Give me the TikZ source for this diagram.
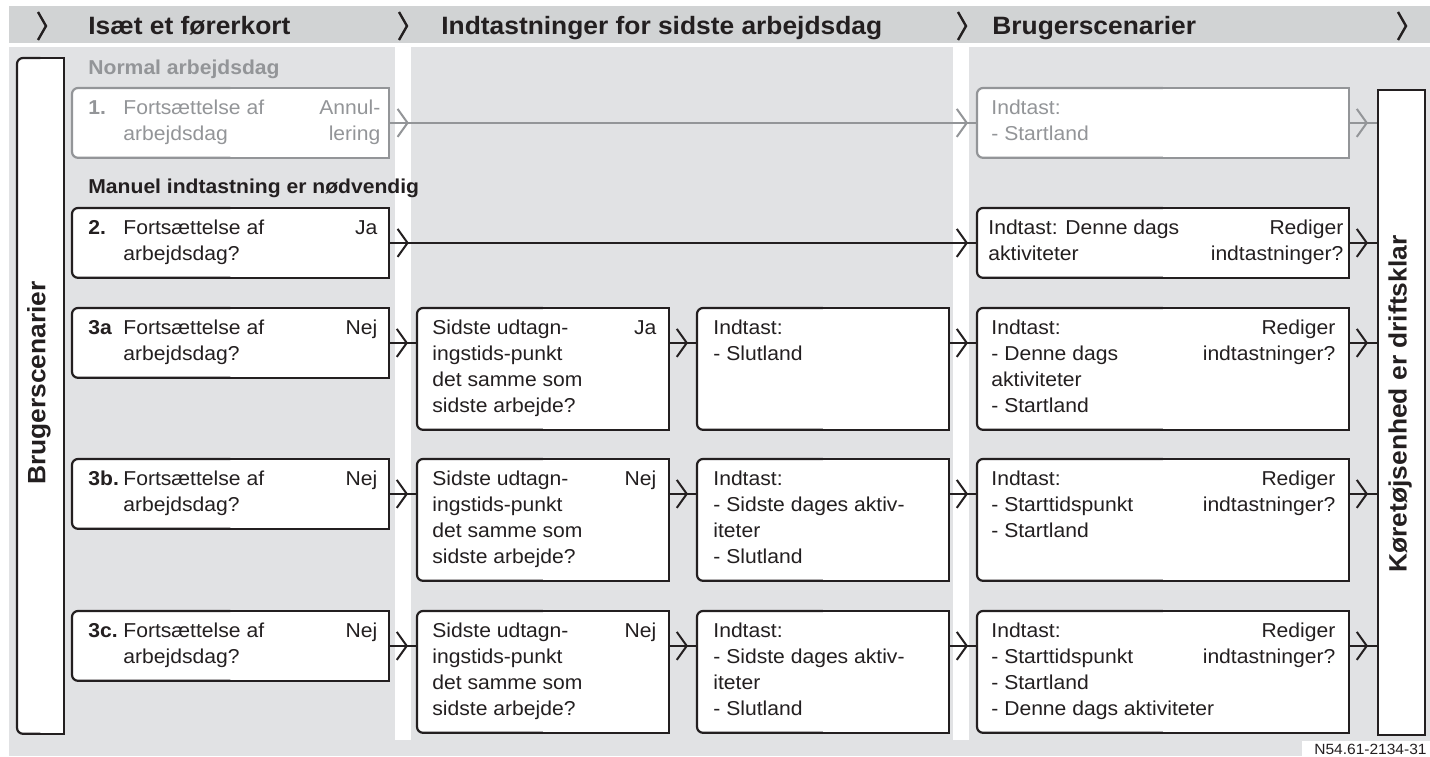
\documentclass[tikz,border=0pt]{standalone}
\usepackage{fontspec}
\setmainfont{Liberation Sans}[FakeStretch=1.05]
\usetikzlibrary{arrows.meta,decorations.markings,calc}

\definecolor{hdrgray}{RGB}{209,211,212}
\definecolor{bodygray}{RGB}{225,226,228}
\definecolor{ink}{RGB}{35,31,32}
\definecolor{dim}{RGB}{147,149,152}

\newcommand{\scenbox}[2][ink]{%
  \fill[white] (#2.north) rectangle (#2.south east);
  \draw[#1, line width=1.1pt, rounded corners=3pt] (#2.north) -- (#2.north west) -- (#2.south west) -- (#2.south);
  \draw[#1, line width=1.1pt] (#2.north) -- (#2.north east) -- (#2.south east) -- (#2.south);}

\tikzset{
  card/.style={rectangle, anchor=north west, inner sep=0pt, fill=white, rounded corners=3pt},
  abox/.style={card, minimum width=158pt, minimum height=34.5pt},
  midbox/.style={card, minimum width=125.5pt, minimum height=60.5pt},
  dbox/.style={card, minimum width=185.5pt, minimum height=#1},
  txt/.style={anchor=north west, inner sep=0pt, align=left, text=ink, font=\fontsize{10.05}{13}\selectfont},
  rtxt/.style={txt, anchor=north east, align=right},
  num/.style={txt, font=\fontsize{10.05}{13}\selectfont\bfseries},
  hdr/.style={anchor=base west, inner sep=0pt, text=ink, font=\fontsize{12.55}{14}\selectfont\bfseries},
  sect/.style={anchor=base west, inner sep=0pt, text=ink, font=\fontsize{10.05}{13}\selectfont\bfseries},
  vert/.style={inner sep=0pt, rotate=90, text=ink, font=\fontsize{12.55}{14}\selectfont\bfseries},
  hchev/.style={draw=ink, line width=1.2pt},
  conn/.style={draw=#1, line width=1pt, postaction={decorate},
    decoration={markings, mark=at position -4.5pt with {\arrow{Straight Barb[length=5pt,width=14pt]}}}},
  conn/.default=ink,
  connlong/.style={draw=#1, line width=1pt, postaction={decorate},
    decoration={markings, mark=at position 10pt with {\arrow{Straight Barb[length=5pt,width=14pt]}},
      mark=at position -4.5pt with {\arrow{Straight Barb[length=5pt,width=14pt]}}}},
  connlong/.default=ink
}

\begin{document}
\begin{tikzpicture}[x=0.5pt,y=-0.5pt]
    \useasboundingbox (0,0) rectangle (1430,756);
    \fill[hdrgray] (9,6) rectangle (1430,43);
    \fill[bodygray] (9,47) rectangle (1430,756);
    \fill[white] (395,47) rectangle (411,740);
    \fill[white] (953,47) rectangle (969,740);
    \fill[white] (1302,741) rectangle (1430,756);

    \draw[hchev] (38,12) -- (46,26) -- (38,40);
    \draw[hchev] (399,12) -- (407,26) -- (399,40);
    \draw[hchev] (958,12) -- (966,26) -- (958,40);
    \draw[hchev] (1398,12) -- (1406,26) -- (1398,40);

    \node[hdr] (h1) at (88,34) {Isæt et førerkort};
    \node[hdr] (h2) at (441,34) {Indtastninger for sidste arbejdsdag};
    \node[hdr] (h3) at (992,34) {Brugerscenarier};

    \node[card, minimum width=23pt, minimum height=337.5pt] (scen) at (17,58) {};
    \scenbox{scen}
    \node[vert] (scent) at (39,383) {Brugerscenarier};

    \node[rectangle, anchor=north west, inner sep=0pt, draw=ink, fill=white, line width=1.1pt,
      minimum width=23.5pt, minimum height=322.5pt] (drv) at (1377,89) {};
    \node[vert] (drvt) at (1400,404) {Køretøjsenhed er driftsklar};

    \node[sect, text=dim] (normal) at (88,74) {Normal arbejdsdag};
    \node[sect] (manuel) at (88,193) {Manuel indtastning er nødvendig};

    % row 1
    \node[abox] (a1) at (72,88) {};
    \scenbox[dim]{a1}
    \node[num, text=dim] (a1n) at ($(a1.north west)+(16,12)$) {1.};
    \node[txt, text=dim] (a1t) at ($(a1.north west)+(51,12)$) {Fortsættelse af\\arbejdsdag};
    \node[rtxt, text=dim] (a1r) at ($(a1.north east)+(-8,12)$) {Annul-\\lering};

    \node[dbox=34.5pt] (d1) at (977,88) {};
    \scenbox[dim]{d1}
    \node[txt, text=dim] (d1t) at ($(d1.north west)+(14,12)$) {Indtast:\\- Startland};

    % row 2
    \node[abox] (a2) at (72,208) {};
    \scenbox{a2}
    \node[num] (a2n) at ($(a2.north west)+(16,12)$) {2.};
    \node[txt] (a2t) at ($(a2.north west)+(51,12)$) {Fortsættelse af\\arbejdsdag?};
    \node[rtxt] (a2r) at ($(a2.north east)+(-11,12)$) {Ja};

    \node[dbox=34.5pt] (d2) at (977,208) {};
    \scenbox{d2}
    \node[txt] (d2t) at ($(d2.north west)+(11,12)$) {Indtast: Denne dags\\aktiviteter};
    \node[rtxt] (d2r) at ($(d2.north east)+(-5,12)$) {Rediger\\indtastninger?};

    % row 3a
    \node[abox] (a3a) at (72,308) {};
    \scenbox{a3a}
    \node[num] (a3an) at ($(a3a.north west)+(16,12)$) {3a};
    \node[txt] (a3at) at ($(a3a.north west)+(51,12)$) {Fortsættelse af\\arbejdsdag?};
    \node[rtxt] (a3ar) at ($(a3a.north east)+(-11,12)$) {Nej};

    \node[midbox] (b3a) at (417,308) {};
    \scenbox{b3a}
    \node[txt] (b3at) at ($(b3a.north west)+(15,12)$) {Sidste udtagn-\\ingstids-punkt\\det samme som\\sidste arbejde?};
    \node[rtxt] (b3ar) at ($(b3a.north east)+(-12,12)$) {Ja};

    \node[midbox] (c3a) at (697,308) {};
    \scenbox{c3a}
    \node[txt] (c3at) at ($(c3a.north west)+(16,12)$) {Indtast:\\- Slutland};

    \node[dbox=60.5pt] (d3a) at (977,308) {};
    \scenbox{d3a}
    \node[txt] (d3at) at ($(d3a.north west)+(14,12)$) {Indtast:\\- Denne dags\\aktiviteter\\- Startland};
    \node[rtxt] (d3ar) at ($(d3a.north east)+(-13,12)$) {Rediger\\indtastninger?};

    % row 3b
    \node[abox] (a3b) at (72,459) {};
    \scenbox{a3b}
    \node[num] (a3bn) at ($(a3b.north west)+(16,12)$) {3b.};
    \node[txt] (a3bt) at ($(a3b.north west)+(51,12)$) {Fortsættelse af\\arbejdsdag?};
    \node[rtxt] (a3br) at ($(a3b.north east)+(-11,12)$) {Nej};

    \node[midbox] (b3b) at (417,459) {};
    \scenbox{b3b}
    \node[txt] (b3bt) at ($(b3b.north west)+(15,12)$) {Sidste udtagn-\\ingstids-punkt\\det samme som\\sidste arbejde?};
    \node[rtxt] (b3br) at ($(b3b.north east)+(-12,12)$) {Nej};

    \node[midbox] (c3b) at (697,459) {};
    \scenbox{c3b}
    \node[txt] (c3bt) at ($(c3b.north west)+(16,12)$) {Indtast:\\- Sidste dages aktiv-\\iteter\\- Slutland};

    \node[dbox=60.5pt] (d3b) at (977,459) {};
    \scenbox{d3b}
    \node[txt] (d3bt) at ($(d3b.north west)+(14,12)$) {Indtast:\\- Starttidspunkt\\- Startland};
    \node[rtxt] (d3br) at ($(d3b.north east)+(-13,12)$) {Rediger\\indtastninger?};

    % row 3c
    \node[abox] (a3c) at (72,611) {};
    \scenbox{a3c}
    \node[num] (a3cn) at ($(a3c.north west)+(16,12)$) {3c.};
    \node[txt] (a3ct) at ($(a3c.north west)+(51,12)$) {Fortsættelse af\\arbejdsdag?};
    \node[rtxt] (a3cr) at ($(a3c.north east)+(-11,12)$) {Nej};

    \node[midbox] (b3c) at (417,611) {};
    \scenbox{b3c}
    \node[txt] (b3ct) at ($(b3c.north west)+(15,12)$) {Sidste udtagn-\\ingstids-punkt\\det samme som\\sidste arbejde?};
    \node[rtxt] (b3cr) at ($(b3c.north east)+(-12,12)$) {Nej};

    \node[midbox] (c3c) at (697,611) {};
    \scenbox{c3c}
    \node[txt] (c3ct) at ($(c3c.north west)+(16,12)$) {Indtast:\\- Sidste dages aktiv-\\iteter\\- Slutland};

    \node[dbox=60.5pt] (d3c) at (977,611) {};
    \scenbox{d3c}
    \node[txt] (d3ct) at ($(d3c.north west)+(14,12)$) {Indtast:\\- Starttidspunkt\\- Startland\\- Denne dags aktiviteter};
    \node[rtxt] (d3cr) at ($(d3c.north east)+(-13,12)$) {Rediger\\indtastninger?};

    % connectors
    \draw[connlong=dim] (a1.east) -- (a1.east -| d1.west);
    \draw[conn=dim] (a1.east -| d1.east) -- (a1.east -| drv.west);
    \draw[connlong] (a2.east) -- (a2.east -| d2.west);
    \draw[conn] (a2.east -| d2.east) -- (a2.east -| drv.west);

    \draw[conn] (a3a.east) -- (a3a.east -| b3a.west);
    \draw[conn] (a3a.east -| b3a.east) -- (a3a.east -| c3a.west);
    \draw[conn] (a3a.east -| c3a.east) -- (a3a.east -| d3a.west);
    \draw[conn] (a3a.east -| d3a.east) -- (a3a.east -| drv.west);

    \draw[conn] (a3b.east) -- (a3b.east -| b3b.west);
    \draw[conn] (a3b.east -| b3b.east) -- (a3b.east -| c3b.west);
    \draw[conn] (a3b.east -| c3b.east) -- (a3b.east -| d3b.west);
    \draw[conn] (a3b.east -| d3b.east) -- (a3b.east -| drv.west);

    \draw[conn] (a3c.east) -- (a3c.east -| b3c.west);
    \draw[conn] (a3c.east -| b3c.east) -- (a3c.east -| c3c.west);
    \draw[conn] (a3c.east -| c3c.east) -- (a3c.east -| d3c.west);
    \draw[conn] (a3c.east -| d3c.east) -- (a3c.east -| drv.west);

    \node[anchor=base east, inner sep=0pt, text=ink, font=\fontsize{7.4}{8}\selectfont] (ref) at (1427,754) {N54.61-2134-31};

  \end{tikzpicture}
\end{document}
